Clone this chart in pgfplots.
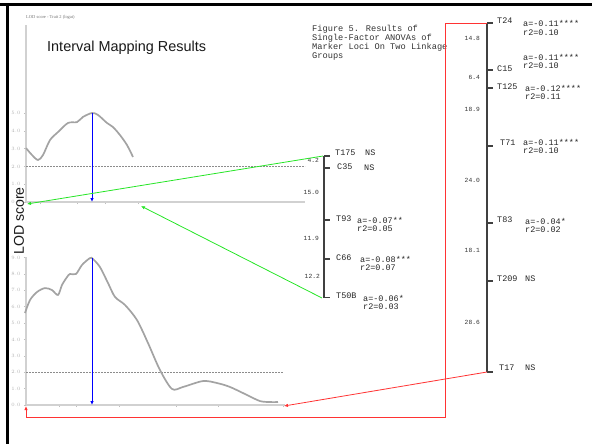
\documentclass[border=0pt]{standalone}
\usepackage{pgfplots}
\pgfplotsset{compat=1.18}
\usetikzlibrary{arrows.meta}
\usepackage{fontspec}
\setmainfont{Liberation Sans}
\newfontfamily\monof{Liberation Mono}
\newfontfamily\seriff{Liberation Serif}
\newcommand{\mk}{\monof\fontsize{8.5}{8.5}\selectfont}
\newcommand{\dk}{\monof\fontsize{6.3}{6.3}\selectfont}
\newcommand{\lab}[3]{\node[anchor=west,inner sep=0pt,font=\mk,text=black!85] at (axis cs:#1,#2) {#3};}
\newcommand{\dist}[3]{\node[anchor=east,inner sep=0pt,font=\dk,text=black!80] at (axis cs:#1,#2) {#3};}
\newcommand{\seg}[4]{\addplot[draw=black!75,line width=1.4bp] coordinates {(#1,#2) (#3,#4)};}
\definecolor{lred}{rgb}{1,0.2,0.2}
\definecolor{lgreen}{rgb}{0.15,0.9,0.15}
\begin{document}
\begin{tikzpicture}[x=1bp,y=1bp]
\useasboundingbox (0bp,0bp) rectangle (592bp,-444bp);
% ---------- upper LOD panel ----------
\begin{axis}[at={(26bp,-202bp)}, anchor=south west, scale only axis,
  width=279bp, height=177bp, xmin=26, xmax=305, ymin=0, ymax=9.944,
  axis x line*=bottom, axis y line*=left,
  axis line style={-, draw=black!18, line width=1.5bp},
  xtick={40,77,105,138}, xticklabels={},
  ytick={0,1,2,3,4,5},
  yticklabel style={font=\fontsize{2.8}{2.8}\selectfont, text=black!30},
  /pgf/number format/.cd, fixed, fixed zerofill, precision=1, /pgfplots/.cd,
  tick align=outside, major tick length=2bp,
  tick style={black!25, line width=0.5bp}, clip=false]
\addplot[black!45, line width=0.5bp, dash pattern=on 1.5bp off 1.5bp] coordinates {(26,2) (305,2)};
\addplot[black!36, line width=1.7bp, smooth, tension=0.5] coordinates {
(26,3.03) (32,2.64) (38,2.36) (43,2.64) (50,3.48) (58,3.93) (68,4.44) (77,4.49)
(83,4.78) (92,5.00) (98,4.89) (107,4.44) (113,4.21) (120,3.76) (127,3.20) (133,2.53)};
\addplot[blue, line width=0.8bp, -{Latex[length=4bp,width=3.5bp]}] coordinates {(92,5.0) (92,0)};
\end{axis}
% ---------- lower LOD panel ----------
\begin{axis}[at={(26bp,-405bp)}, anchor=south west, scale only axis,
  width=259bp, height=148.4bp, xmin=26, xmax=285, ymin=0, ymax=9.05,
  axis x line*=bottom, axis y line*=left,
  axis line style={-, draw=black!18, line width=1.5bp},
  xtick={59,76,119,176,218,283}, xticklabels={},
  ytick={0,1,2,3,4,5,6,7,8,9},
  yticklabel style={font=\fontsize{2.8}{2.8}\selectfont, text=black!30},
  /pgf/number format/.cd, fixed, fixed zerofill, precision=1, /pgfplots/.cd,
  tick align=outside, major tick length=2bp,
  tick style={black!25, line width=0.5bp}, clip=false]
\addplot[black!45, line width=0.5bp, dash pattern=on 1.5bp off 1.5bp] coordinates {(26,2) (283,2)};
\addplot[black!36, line width=1.7bp, smooth, tension=0.5] coordinates {
(25,5.61) (30,6.40) (37,6.89) (45,7.13) (52,7.01) (58,6.71) (62,7.32) (67,7.80)
(70,7.99) (76,7.99) (82,8.54) (90,8.96) (93,8.90) (100,8.41) (108,7.44) (115,6.59)
(125,6.10) (137,5.18) (148,3.78) (160,2.13) (172,0.98) (183,1.10) (203,1.46)
(217,1.34) (230,1.10) (247,0.61) (260,0.24) (270,0.18) (278,0.18)};
\addplot[blue, line width=0.8bp, -{Latex[length=4bp,width=3.5bp]}] coordinates {(92,8.96) (92,0)};
\end{axis}
% ---------- overlay in pixel units ----------
\begin{axis}[at={(0bp,0bp)}, anchor=north west, scale only axis,
  width=592bp, height=444bp, xmin=0, xmax=592, ymin=0, ymax=444,
  y dir=reverse, hide axis, clip=false]
% frame
\addplot[black, line width=3bp] coordinates {(0,4.5) (592,4.5)};
\addplot[black, line width=3bp] coordinates {(7.5,3) (7.5,444)};
% titles
\node[anchor=west,inner sep=0pt,font=\fontsize{14.5}{14.5}\selectfont,text=black!90] at (axis cs:47,48) {Interval Mapping Results};
\node[rotate=90,inner sep=0pt,font=\fontsize{14.2}{14.2}\selectfont,text=black!90] at (axis cs:19,221) {LOD score};
\node[anchor=west,inner sep=0pt,font=\seriff\fontsize{4.5}{4.5}\selectfont,text=black!55] at (axis cs:26,17) {LOD score - Trait 2 (logat)};
\node[anchor=west,inner sep=0pt,font=\monof\fontsize{8.7}{8.7}\selectfont,text=black!80] at (axis cs:312,29) {Figure 5. Results of};
\node[anchor=west,inner sep=0pt,font=\monof\fontsize{8.7}{8.7}\selectfont,text=black!80] at (axis cs:312,38.3) {Single-Factor ANOVAs of};
\node[anchor=west,inner sep=0pt,font=\monof\fontsize{8.7}{8.7}\selectfont,text=black!80] at (axis cs:312,47.5) {Marker Loci On Two Linkage};
\node[anchor=west,inner sep=0pt,font=\monof\fontsize{8.7}{8.7}\selectfont,text=black!80] at (axis cs:312,56.7) {Groups};
% linkage group 1
\seg{324}{156}{324}{298}
\seg{324}{156}{330}{156}
\seg{324}{168}{330}{168}
\seg{324}{220}{330}{220}
\seg{324}{259}{330}{259}
\seg{324}{297.5}{330}{297.5}
\lab{335}{153}{T175} \lab{365}{153}{NS}
\lab{337}{167}{C35} \lab{364}{168}{NS}
\lab{336}{219}{T93} \lab{357}{220}{a=-0.07**} \lab{357}{228.5}{r2=0.05}
\lab{336}{258}{C66} \lab{360}{259}{a=-0.08***} \lab{360}{268}{r2=0.07}
\lab{336}{296}{T50B} \lab{363}{298}{a=-0.06*} \lab{363}{307}{r2=0.03}
\dist{319}{160}{4.2} \dist{319}{192}{15.0} \dist{319}{238}{11.9} \dist{320}{276}{12.2}
% linkage group 2
\seg{487}{23}{487}{372}
\seg{487}{23}{493}{23}
\seg{487}{70}{493}{70}
\seg{487}{88}{493}{88}
\seg{487}{146}{493}{146}
\seg{487}{223}{493}{223}
\seg{487}{281}{493}{281}
\seg{487}{372}{493}{372}
\lab{497}{21}{T24} \lab{523}{23}{a=-0.11****} \lab{523}{33}{r2=0.10}
\lab{497}{69}{C15} \lab{523}{57}{a=-0.11****} \lab{523}{66}{r2=0.10}
\lab{497}{87}{T125} \lab{525}{88}{a=-0.12****} \lab{525}{97}{r2=0.11}
\lab{500}{143}{T71} \lab{523}{142}{a=-0.11****} \lab{523}{151}{r2=0.10}
\lab{497}{220}{T83} \lab{525}{221}{a=-0.04*} \lab{525}{229.5}{r2=0.02}
\lab{497}{279}{T209} \lab{525}{279}{NS}
\lab{499}{368}{T17} \lab{525}{368}{NS}
\dist{480}{38}{14.8} \dist{480}{77}{6.4} \dist{480}{109}{18.9} \dist{480}{180}{24.0}
\dist{480}{250}{18.1} \dist{480}{322}{28.6}
% connecting arrows
\addplot[lgreen, line width=0.8bp, -{Latex[length=4bp,width=3.5bp]}] coordinates {(323,156) (27,204)};
\addplot[lgreen, line width=0.8bp, -{Latex[length=4bp,width=3.5bp]}] coordinates {(322,298) (141,206)};
\addplot[lred, line width=0.9bp, -{Latex[length=4bp,width=3.5bp]}] coordinates {(487,23) (445,23) (445,417) (26,417) (26,406)};
\addplot[lred, line width=0.8bp, -{Latex[length=4bp,width=3.5bp]}] coordinates {(487,372) (284,406)};
\end{axis}
\end{tikzpicture}
\end{document}
